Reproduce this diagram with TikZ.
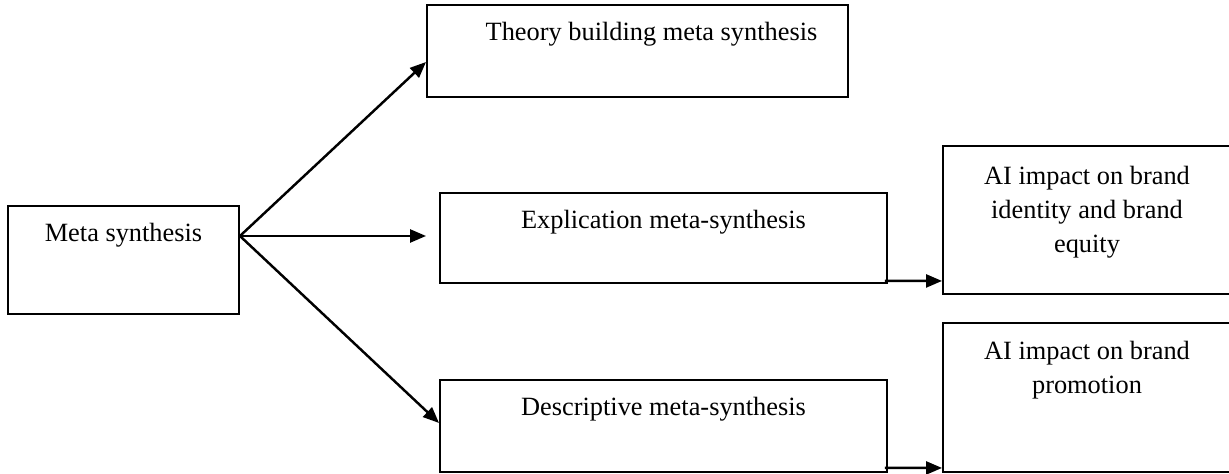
\documentclass[tikz,border=0pt]{standalone}
\usepackage{fontspec}
\setmainfont{Liberation Serif}
\usetikzlibrary{arrows.meta}
\definecolor{Ink}{HTML}{000000}

\begin{document}
\begin{tikzpicture}[line join=miter,
    box/.style={draw=Ink,line width=1.1pt,minimum width=#1,inner sep=0pt},
    txt/.style={anchor=north,inner sep=0pt,align=center,font=\fontsize{15}{19.4}\selectfont},
    link/.style={draw=Ink,line width=1.4pt,-{Triangle[length=0.32cm,width=0.26cm]}}]
  \useasboundingbox (0,0) rectangle (24.58,9.48);
  \clip (0,0) rectangle (24.58,9.48);
  % left box and the three methods
  \node[box=4.62cm,minimum height=2.16cm,label={[txt,yshift=-0.35cm]north:Meta synthesis}] (ms) at (2.47,4.28) {};
  \node[box=8.42cm,minimum height=1.84cm,label={[txt,yshift=-0.36cm,xshift=0.28cm]north:Theory building meta synthesis}] (tb) at (12.75,8.46) {};
  \node[box=8.94cm,minimum height=1.80cm,label={[txt,yshift=-0.35cm]north:Explication meta-synthesis}] (em) at (13.27,4.72) {};
  \node[box=8.94cm,minimum height=1.84cm,label={[txt,yshift=-0.36cm]north:Descriptive meta-synthesis}] (dm) at (13.27,0.96) {};
  % outcomes on the right, cut by the page edge
  \node[box=5.96cm,minimum height=2.96cm,label={[txt,yshift=-0.42cm,xshift=-0.1cm]north:AI impact on brand\\identity and brand\\equity}] (id) at (21.84,5.08) {};
  \node[box=5.96cm,minimum height=2.98cm,label={[txt,yshift=-0.38cm,xshift=-0.1cm]north:AI impact on brand\\promotion}] (pr) at (21.84,1.53) {};

  \coordinate (fork) at ([yshift=0.48cm]ms.east);
  \coordinate (gap) at ([xshift=-0.26cm,yshift=0.04cm]em.west);
  \draw[link] (fork) -- ([yshift=-0.22cm]tb.west);
  \draw[link] (fork) -- (gap);
  \draw[link] (fork) -- ([yshift=0.06cm]dm.west);
  \draw[link] ([xshift=-0.06cm,yshift=0.06cm]em.south east) -- ([yshift=0.28cm]id.south west);
  \draw[link] ([xshift=-0.06cm,yshift=0.1cm]dm.south east) -- ([yshift=0.1cm]pr.south west);
\end{tikzpicture}
\end{document}
